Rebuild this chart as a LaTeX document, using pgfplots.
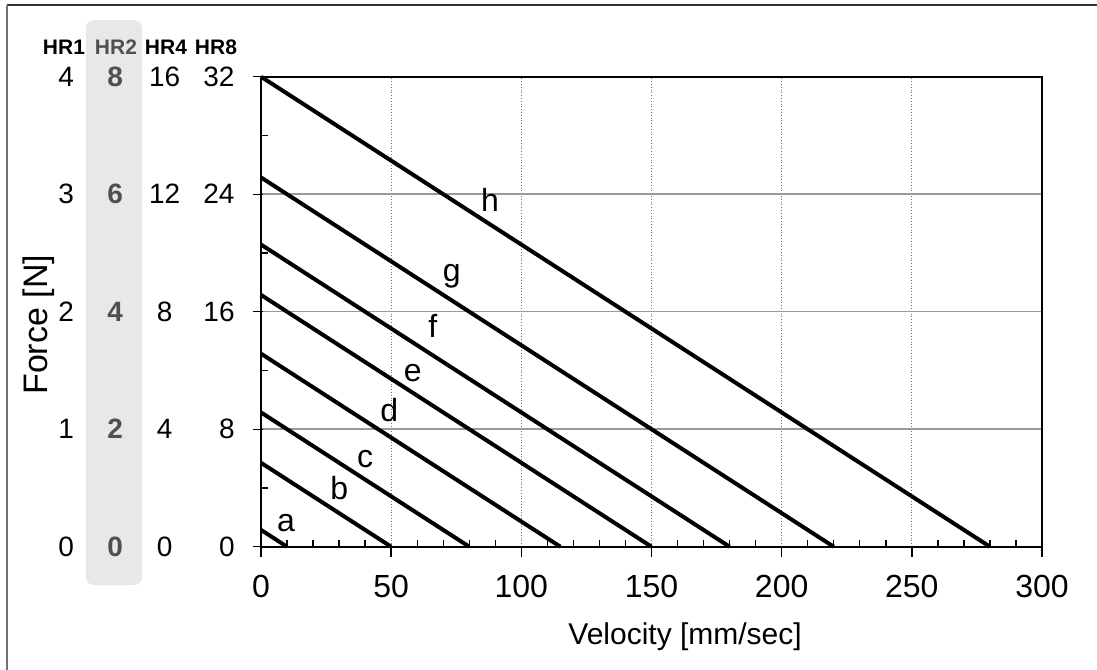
\documentclass[border=0pt]{standalone}
\usepackage{pgfplots}
\pgfplotsset{compat=1.18}
\usepackage{fontspec}
\setmainfont{Liberation Sans}

\definecolor{band}{HTML}{E8E8E8}
\definecolor{hrgray}{HTML}{505050}

% one y tick label row: HR1, HR2, HR4 columns, then the HR8 value
\newcommand{\ylab}[4]{\makebox[0pt][r]{\makebox[0pt]{#1}\hspace{24.5pt}\makebox[0pt]{\bfseries\color{hrgray}#2}\hspace{24.75pt}\makebox[0pt]{#3}\hspace{19pt}}\makebox[16pt][r]{#4}}

\begin{document}
\begin{tikzpicture}[x=0.5pt,y=-0.5pt]
  \useasboundingbox (0,0) rectangle (1097,669);
  \fill[band, rounded corners=4pt] (86,20) rectangle (142,585);
  \draw[black!80, line width=0.8pt] (7,5) -- (1100,5);
  \draw[black!55, line width=1pt] (7,5) -- (7,680);

  \begin{axis}[
      at={(130.5pt,-273.35pt)}, anchor=south west,
      scale only axis,
      width=390.5pt, height=235pt,
      xmin=0, xmax=300, ymin=0, ymax=32,
      xtick={0,50,...,300},
      ytick={0,8,...,32},
      yticklabels={\ylab{0}{0}{0}{0},\ylab{1}{2}{4}{8},\ylab{2}{4}{8}{16},\ylab{3}{6}{12}{24},\ylab{4}{8}{16}{32}},
      /pgf/number format/assume math mode=true,
      minor x tick num=4,
      minor y tick num=1,
      tick pos=left,
      tick align=inside,
      major tick length=5pt,
      minor tick length=3.5pt,
      major x tick style={yshift=-5pt},
      major y tick style={xshift=-4pt},
      tick style={black, line width=0.7pt},
      axis line style={black, line width=0.9pt},
      xmajorgrids, ymajorgrids,
      major x grid style={black!55, densely dotted, line width=0.4pt},
      major y grid style={black!40, line width=0.75pt},
      xticklabel style={font=\fontsize{16}{19}\selectfont, inner sep=0pt, yshift=-14pt},
      yticklabel style={font=\fontsize{14}{17}\selectfont, inner sep=0pt, xshift=-13pt, anchor=east},
      xlabel={Velocity [mm/sec]},
      ylabel={Force [N]},
      every axis x label/.style={at={(rel axis cs:0.543,-0.192)}, anchor=center, font=\fontsize{15}{18}\selectfont},
      every axis y label/.style={at={(rel axis cs:-0.284,0.472)}, anchor=center, rotate=90, font=\fontsize{17}{20}\selectfont},
      clip=false,
    ]
    \addplot[black, solid, no marks, line width=2pt] coordinates {(0,1.143) (10,0)};
    \addplot[black, solid, no marks, line width=2pt] coordinates {(0,5.714) (50,0)};
    \addplot[black, solid, no marks, line width=2pt] coordinates {(0,9.143) (80,0)};
    \addplot[black, solid, no marks, line width=2pt] coordinates {(0,13.143) (115,0)};
    \addplot[black, solid, no marks, line width=2pt] coordinates {(0,17.143) (150,0)};
    \addplot[black, solid, no marks, line width=2pt] coordinates {(0,20.571) (180,0)};
    \addplot[black, solid, no marks, line width=2pt] coordinates {(0,25.143) (220,0)};
    \addplot[black, solid, no marks, line width=2pt] coordinates {(0,32) (280,0)};

    \begin{scope}[font=\fontsize{16}{19}\selectfont]
      \node at (axis cs:9.6,1.6) {a};
      \node at (axis cs:30.1,4.0) {b};
      \node at (axis cs:40,6.0) {c};
      \node at (axis cs:49.3,9.3) {d};
      \node at (axis cs:58.3,11.8) {e};
      \node at (axis cs:66,15.0) {f};
      \node at (axis cs:73.3,18.4) {g};
      \node at (axis cs:88,23.6) {h};
    \end{scope}
  \end{axis}

  \begin{scope}[font=\fontsize{10.5}{12}\selectfont\bfseries]
    \node at (64,47) {HR1};
    \node[text=hrgray] at (116,47) {HR2};
    \node at (166,47) {HR4};
    \node at (216,47) {HR8};
  \end{scope}
\end{tikzpicture}
\end{document}
